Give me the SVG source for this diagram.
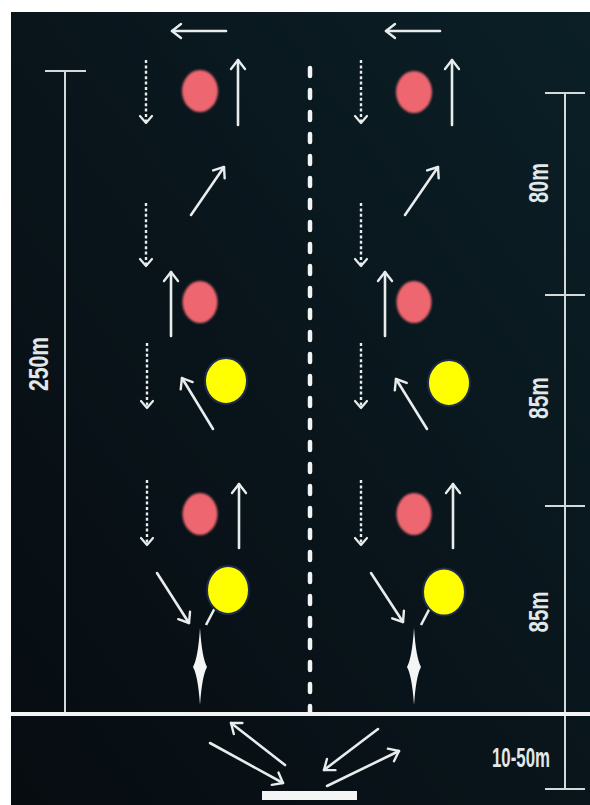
<svg xmlns="http://www.w3.org/2000/svg" width="590" height="805" viewBox="0 0 590 805">
<defs>
<linearGradient id="bg" x1="1" y1="0" x2="0" y2="1">
<stop offset="0" stop-color="#0b1f27"/>
<stop offset="0.5" stop-color="#09151b"/>
<stop offset="1" stop-color="#070c11"/>
</linearGradient>
<filter id="soft" x="-20%" y="-20%" width="140%" height="140%"><feGaussianBlur stdDeviation="0.9"/></filter>
<marker id="ah" markerUnits="userSpaceOnUse" markerWidth="20" markerHeight="20" viewBox="-12 -10 14 20" refX="0" refY="0" orient="auto">
<path d="M-9,-7 L0,0 L-9,7" fill="none" stroke="#e8ecec" stroke-width="2.4" stroke-linecap="round" stroke-linejoin="round"/>
</marker>
<marker id="ahd" markerUnits="userSpaceOnUse" markerWidth="20" markerHeight="20" viewBox="-12 -10 14 20" refX="0" refY="0" orient="auto">
<path d="M-7,-6 L0,0 L-7,6" fill="none" stroke="#e8ecec" stroke-width="2.2" stroke-linecap="round" stroke-linejoin="round"/>
</marker>
</defs>
<style>
.arr{fill:none;stroke:#e8ecec;stroke-width:2.6;stroke-linecap:round;marker-end:url(#ah)}
.dot{fill:none;stroke:#e8ecec;stroke-width:2.4;stroke-dasharray:3 2.4;marker-end:url(#ahd)}
.dim{fill:none;stroke:#d4dada;stroke-width:2}
.cone{fill:#ee6670;filter:url(#soft)}
.ball{fill:#ffff00;stroke:#1e2c4c;stroke-width:2}
.lbl{font-family:"Liberation Sans",Arial,sans-serif;font-size:27px;font-weight:bold;fill:#e2e8e8;text-anchor:middle}
.wh{fill:#f4f6f6}
</style>
<rect x="0" y="0" width="590" height="805" fill="#ffffff"/>
<rect x="11" y="12" width="579" height="793" fill="url(#bg)"/>

<g id="dimensions">
<line class="dim" x1="65" y1="71" x2="65" y2="714"/>
<line class="dim" x1="45" y1="71" x2="86" y2="71"/>
<line class="dim" x1="565" y1="93" x2="565" y2="789"/>
<line class="dim" x1="545" y1="93" x2="585" y2="93"/>
<line class="dim" x1="545" y1="295" x2="585" y2="295"/>
<line class="dim" x1="545" y1="506" x2="585" y2="506"/>
<line class="dim" x1="545" y1="789" x2="585" y2="789"/>
<text class="lbl" transform="translate(48,364) rotate(-90)" textLength="54" lengthAdjust="spacingAndGlyphs">250m</text>
<text class="lbl" transform="translate(548,183) rotate(-90)" textLength="40" lengthAdjust="spacingAndGlyphs">80m</text>
<text class="lbl" transform="translate(548,398) rotate(-90)" textLength="42" lengthAdjust="spacingAndGlyphs">85m</text>
<text class="lbl" transform="translate(548,612) rotate(-90)" textLength="41" lengthAdjust="spacingAndGlyphs">85m</text>
<text class="lbl" x="521" y="767" textLength="58" lengthAdjust="spacingAndGlyphs" style="font-size:27px">10-50m</text>
</g>

<g id="field">
<line x1="11" y1="714" x2="590" y2="714" stroke="#f2f4f4" stroke-width="4"/>
<line x1="310" y1="68" x2="310" y2="712" stroke="#f2f4f4" stroke-width="4.5" stroke-dasharray="8 14" stroke-linecap="round"/>
<rect id="start-line" class="wh" x="262" y="791" width="95" height="9"/>
</g>

<g id="connectors">
<line class="arr" x1="226" y1="31" x2="172" y2="31"/>
<line class="dot" x1="146" y1="60" x2="146" y2="123"/>
<line class="arr" x1="238" y1="125" x2="238" y2="60"/>
<line class="arr" x1="191" y1="215" x2="224" y2="167"/>
<line class="dot" x1="146" y1="203" x2="146" y2="266"/>
<line class="arr" x1="171" y1="336" x2="171" y2="272"/>
<line class="dot" x1="147" y1="343" x2="147" y2="408"/>
<line class="arr" x1="213" y1="429" x2="182" y2="378"/>
<line class="dot" x1="147" y1="480" x2="147" y2="545"/>
<line class="arr" x1="239" y1="548" x2="239" y2="484"/>
<line class="arr" x1="157" y1="573" x2="189" y2="623"/>
<line x1="206" y1="625" x2="218" y2="602" stroke="#e8ecec" stroke-width="2.6"/>
<line class="arr" x1="440" y1="31" x2="386" y2="31"/>
<line class="dot" x1="361" y1="60" x2="361" y2="123"/>
<line class="arr" x1="452" y1="125" x2="452" y2="60"/>
<line class="arr" x1="405" y1="215" x2="438" y2="167"/>
<line class="dot" x1="361" y1="203" x2="361" y2="266"/>
<line class="arr" x1="385" y1="336" x2="385" y2="272"/>
<line class="dot" x1="361" y1="343" x2="361" y2="408"/>
<line class="arr" x1="427" y1="429" x2="396" y2="379"/>
<line class="dot" x1="361" y1="480" x2="361" y2="545"/>
<line class="arr" x1="453" y1="548" x2="453" y2="484"/>
<line class="arr" x1="371" y1="573" x2="403" y2="622"/>
<line x1="421" y1="625" x2="432" y2="604" stroke="#e8ecec" stroke-width="2.6"/>
<line class="arr" x1="285" y1="765" x2="231" y2="723"/>
<line class="arr" x1="210" y1="743" x2="283" y2="783"/>
<line class="arr" x1="378" y1="729" x2="324" y2="770"/>
<line class="arr" x1="327" y1="786" x2="399" y2="751"/>
</g>

<g id="cone-L1"><ellipse class="cone" cx="200" cy="91" rx="18" ry="21"/></g>
<g id="cone-L2"><ellipse class="cone" cx="200" cy="302" rx="17.5" ry="21"/></g>
<g id="cone-L3"><ellipse class="cone" cx="200" cy="514" rx="17.5" ry="21"/></g>
<g id="cone-R1"><ellipse class="cone" cx="414" cy="92" rx="18" ry="21"/></g>
<g id="cone-R2"><ellipse class="cone" cx="414" cy="302" rx="17.5" ry="21"/></g>
<g id="cone-R3"><ellipse class="cone" cx="414" cy="514" rx="17.5" ry="21"/></g>

<g id="ball-L1"><ellipse class="ball" cx="226" cy="381" rx="21" ry="23"/></g>
<g id="ball-L2"><ellipse class="ball" cx="228" cy="590" rx="21" ry="24"/></g>
<g id="ball-R1"><ellipse class="ball" cx="449" cy="383" rx="21" ry="23"/></g>
<g id="ball-R2"><ellipse class="ball" cx="444" cy="592" rx="21" ry="23.5"/></g>

<g id="goal-L"><path class="wh" d="M200,628 Q202,658 207,667 Q202,676 200,705 Q198,676 193,667 Q198,658 200,628 Z"/></g>
<g id="goal-R"><path class="wh" d="M414,628 Q416,658 421,667 Q416,676 414,705 Q412,676 407,667 Q412,658 414,628 Z"/></g>
</svg>
